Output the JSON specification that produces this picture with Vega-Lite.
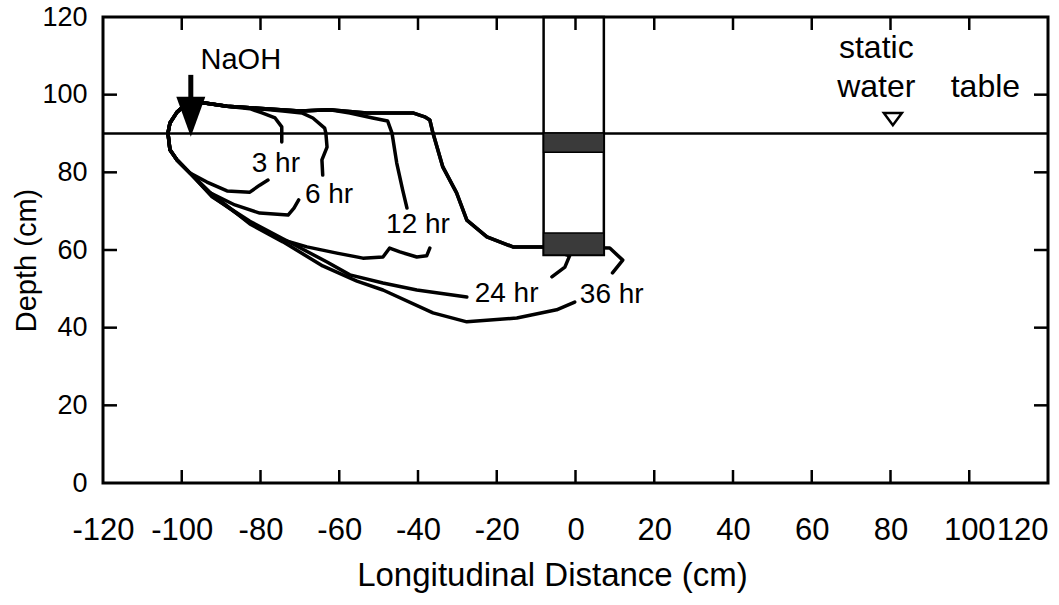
{
  "$schema": "https://vega.github.io/schema/vega-lite/v6.json",
  "width": 945,
  "height": 466,
  "autosize": {"type": "none"},
  "padding": {"left": 103, "top": 17, "right": 11, "bottom": 122},
  "background": "white",
  "config": {
    "view": {"stroke": "black", "strokeWidth": 3},
    "axis": {"grid": false, "domain": false, "ticks": false, "labelColor": "black", "titleColor": "black", "labelFont": "Liberation Sans", "titleFont": "Liberation Sans", "titleFontWeight": "normal", "labelOverlap": false}
  },
  "datasets": {
    "curves": [
      {"hr": "3", "i": 1, "x": -74.6, "y": 87.8},
      {"hr": "3", "i": 2, "x": -74.6, "y": 91.7},
      {"hr": "3", "i": 3, "x": -76.3, "y": 94.0},
      {"hr": "3", "i": 4, "x": -79.6, "y": 95.3},
      {"hr": "3", "i": 5, "x": -82.7, "y": 96.4},
      {"hr": "3", "i": 6, "x": -88.5, "y": 97.0},
      {"hr": "3", "i": 7, "x": -94.6, "y": 97.9},
      {"hr": "3", "i": 8, "x": -98.9, "y": 97.6},
      {"hr": "3", "i": 9, "x": -101.2, "y": 95.5},
      {"hr": "3", "i": 10, "x": -103.0, "y": 92.7},
      {"hr": "3", "i": 11, "x": -103.5, "y": 90.1},
      {"hr": "3", "i": 12, "x": -103.0, "y": 85.8},
      {"hr": "3", "i": 13, "x": -101.2, "y": 83.2},
      {"hr": "3", "i": 14, "x": -97.9, "y": 79.8},
      {"hr": "3", "i": 15, "x": -93.6, "y": 77.5},
      {"hr": "3", "i": 16, "x": -88.5, "y": 75.2},
      {"hr": "3", "i": 17, "x": -82.7, "y": 74.9},
      {"hr": "3", "i": 18, "x": -80.2, "y": 76.7},
      {"hr": "3", "i": 19, "x": -78.1, "y": 78.0},

      {"hr": "6", "i": 1, "x": -64.2, "y": 79.3},
      {"hr": "6", "i": 2, "x": -64.4, "y": 83.2},
      {"hr": "6", "i": 3, "x": -63.1, "y": 86.5},
      {"hr": "6", "i": 4, "x": -63.4, "y": 90.1},
      {"hr": "6", "i": 5, "x": -63.7, "y": 91.4},
      {"hr": "6", "i": 6, "x": -66.7, "y": 94.0},
      {"hr": "6", "i": 7, "x": -69.5, "y": 95.3},
      {"hr": "6", "i": 8, "x": -74.3, "y": 95.8},
      {"hr": "6", "i": 9, "x": -82.7, "y": 96.6},
      {"hr": "6", "i": 10, "x": -88.5, "y": 97.0},
      {"hr": "6", "i": 11, "x": -94.6, "y": 97.9},
      {"hr": "6", "i": 12, "x": -98.9, "y": 97.6},
      {"hr": "6", "i": 13, "x": -101.2, "y": 95.5},
      {"hr": "6", "i": 14, "x": -103.0, "y": 92.7},
      {"hr": "6", "i": 15, "x": -103.5, "y": 90.1},
      {"hr": "6", "i": 16, "x": -103.0, "y": 85.8},
      {"hr": "6", "i": 17, "x": -101.2, "y": 83.2},
      {"hr": "6", "i": 18, "x": -97.9, "y": 79.8},
      {"hr": "6", "i": 19, "x": -92.8, "y": 74.7},
      {"hr": "6", "i": 20, "x": -86.5, "y": 71.6},
      {"hr": "6", "i": 21, "x": -80.2, "y": 69.5},
      {"hr": "6", "i": 22, "x": -73.0, "y": 69.0},
      {"hr": "6", "i": 23, "x": -71.5, "y": 70.8},
      {"hr": "6", "i": 24, "x": -70.3, "y": 72.9},

      {"hr": "12", "i": 1, "x": -42.8, "y": 70.8},
      {"hr": "12", "i": 2, "x": -43.9, "y": 75.5},
      {"hr": "12", "i": 3, "x": -45.4, "y": 82.4},
      {"hr": "12", "i": 4, "x": -46.6, "y": 90.1},
      {"hr": "12", "i": 5, "x": -47.7, "y": 93.2},
      {"hr": "12", "i": 6, "x": -51.5, "y": 94.0},
      {"hr": "12", "i": 7, "x": -57.3, "y": 95.3},
      {"hr": "12", "i": 8, "x": -62.4, "y": 96.1},
      {"hr": "12", "i": 9, "x": -70.0, "y": 95.8},
      {"hr": "12", "i": 10, "x": -82.7, "y": 96.6},
      {"hr": "12", "i": 11, "x": -88.5, "y": 97.0},
      {"hr": "12", "i": 12, "x": -94.6, "y": 97.9},
      {"hr": "12", "i": 13, "x": -98.9, "y": 97.6},
      {"hr": "12", "i": 14, "x": -101.2, "y": 95.5},
      {"hr": "12", "i": 15, "x": -103.0, "y": 92.7},
      {"hr": "12", "i": 16, "x": -103.5, "y": 90.1},
      {"hr": "12", "i": 17, "x": -103.0, "y": 85.8},
      {"hr": "12", "i": 18, "x": -101.2, "y": 83.2},
      {"hr": "12", "i": 19, "x": -97.9, "y": 79.8},
      {"hr": "12", "i": 20, "x": -92.3, "y": 73.9},
      {"hr": "12", "i": 21, "x": -82.7, "y": 67.0},
      {"hr": "12", "i": 22, "x": -74.3, "y": 62.6},
      {"hr": "12", "i": 23, "x": -68.2, "y": 60.8},
      {"hr": "12", "i": 24, "x": -60.6, "y": 59.2},
      {"hr": "12", "i": 25, "x": -54.0, "y": 57.9},
      {"hr": "12", "i": 26, "x": -48.9, "y": 58.2},
      {"hr": "12", "i": 27, "x": -47.2, "y": 60.5},
      {"hr": "12", "i": 28, "x": -44.6, "y": 59.5},
      {"hr": "12", "i": 29, "x": -40.3, "y": 58.2},
      {"hr": "12", "i": 30, "x": -37.8, "y": 58.5},
      {"hr": "12", "i": 31, "x": -37.0, "y": 60.5},

      {"hr": "24", "i": 1, "x": -6.0, "y": 53.1},
      {"hr": "24", "i": 2, "x": -2.7, "y": 55.6},
      {"hr": "24", "i": 3, "x": -1.5, "y": 58.5},
      {"hr": "24", "i": 4, "x": -8.3, "y": 60.8},
      {"hr": "24", "i": 5, "x": -15.9, "y": 60.8},
      {"hr": "24", "i": 6, "x": -22.5, "y": 63.4},
      {"hr": "24", "i": 7, "x": -27.6, "y": 67.7},
      {"hr": "24", "i": 8, "x": -30.2, "y": 74.7},
      {"hr": "24", "i": 9, "x": -33.7, "y": 81.4},
      {"hr": "24", "i": 10, "x": -36.2, "y": 90.1},
      {"hr": "24", "i": 11, "x": -37.0, "y": 93.5},
      {"hr": "24", "i": 12, "x": -38.3, "y": 94.3},
      {"hr": "24", "i": 13, "x": -41.3, "y": 95.3},
      {"hr": "24", "i": 14, "x": -53.0, "y": 95.3},
      {"hr": "24", "i": 15, "x": -62.4, "y": 96.1},
      {"hr": "24", "i": 16, "x": -70.0, "y": 95.8},
      {"hr": "24", "i": 17, "x": -82.7, "y": 96.6},
      {"hr": "24", "i": 18, "x": -88.5, "y": 97.0},
      {"hr": "24", "i": 19, "x": -94.6, "y": 97.9},
      {"hr": "24", "i": 20, "x": -98.9, "y": 97.6},
      {"hr": "24", "i": 21, "x": -101.2, "y": 95.5},
      {"hr": "24", "i": 22, "x": -103.0, "y": 92.7},
      {"hr": "24", "i": 23, "x": -103.5, "y": 90.1},
      {"hr": "24", "i": 24, "x": -103.0, "y": 85.8},
      {"hr": "24", "i": 25, "x": -101.2, "y": 83.2},
      {"hr": "24", "i": 26, "x": -97.9, "y": 79.8},
      {"hr": "24", "i": 27, "x": -92.3, "y": 73.7},
      {"hr": "24", "i": 28, "x": -82.7, "y": 67.4},
      {"hr": "24", "i": 29, "x": -74.3, "y": 62.9},
      {"hr": "24", "i": 30, "x": -63.1, "y": 56.9},
      {"hr": "24", "i": 31, "x": -57.3, "y": 53.6},
      {"hr": "24", "i": 32, "x": -48.9, "y": 51.5},
      {"hr": "24", "i": 33, "x": -40.3, "y": 49.7},
      {"hr": "24", "i": 34, "x": -27.6, "y": 47.9},

      {"hr": "36", "i": 1, "x": 9.4, "y": 54.1},
      {"hr": "36", "i": 2, "x": 12.0, "y": 57.4},
      {"hr": "36", "i": 3, "x": 8.7, "y": 60.5},
      {"hr": "36", "i": 4, "x": -8.3, "y": 60.8},
      {"hr": "36", "i": 5, "x": -15.9, "y": 60.8},
      {"hr": "36", "i": 6, "x": -22.5, "y": 63.4},
      {"hr": "36", "i": 7, "x": -27.6, "y": 67.7},
      {"hr": "36", "i": 8, "x": -30.2, "y": 74.7},
      {"hr": "36", "i": 9, "x": -33.7, "y": 81.4},
      {"hr": "36", "i": 10, "x": -36.2, "y": 90.1},
      {"hr": "36", "i": 11, "x": -37.0, "y": 93.5},
      {"hr": "36", "i": 12, "x": -38.3, "y": 94.3},
      {"hr": "36", "i": 13, "x": -41.3, "y": 95.3},
      {"hr": "36", "i": 14, "x": -53.0, "y": 95.3},
      {"hr": "36", "i": 15, "x": -62.4, "y": 96.1},
      {"hr": "36", "i": 16, "x": -70.0, "y": 95.8},
      {"hr": "36", "i": 17, "x": -82.7, "y": 96.6},
      {"hr": "36", "i": 18, "x": -88.5, "y": 97.0},
      {"hr": "36", "i": 19, "x": -94.6, "y": 97.9},
      {"hr": "36", "i": 20, "x": -98.9, "y": 97.6},
      {"hr": "36", "i": 21, "x": -101.2, "y": 95.5},
      {"hr": "36", "i": 22, "x": -103.0, "y": 92.7},
      {"hr": "36", "i": 23, "x": -103.5, "y": 90.1},
      {"hr": "36", "i": 24, "x": -103.0, "y": 85.8},
      {"hr": "36", "i": 25, "x": -101.2, "y": 83.2},
      {"hr": "36", "i": 26, "x": -97.9, "y": 79.8},
      {"hr": "36", "i": 27, "x": -93.0, "y": 75.0},
      {"hr": "36", "i": 28, "x": -82.7, "y": 66.7},
      {"hr": "36", "i": 29, "x": -74.3, "y": 62.1},
      {"hr": "36", "i": 30, "x": -64.2, "y": 55.9},
      {"hr": "36", "i": 31, "x": -55.5, "y": 52.0},
      {"hr": "36", "i": 32, "x": -48.9, "y": 49.7},
      {"hr": "36", "i": 33, "x": -36.2, "y": 43.8},
      {"hr": "36", "i": 34, "x": -27.6, "y": 41.5},
      {"hr": "36", "i": 35, "x": -14.9, "y": 42.5},
      {"hr": "36", "i": 36, "x": -4.8, "y": 44.6},
      {"hr": "36", "i": 37, "x": -0.2, "y": 46.6}
    ],
    "hours": [
      {"label": "3 hr", "x": -76.1, "y": 82.2},
      {"label": "6 hr", "x": -62.6, "y": 74.2},
      {"label": "12 hr", "x": -40.0, "y": 66.4},
      {"label": "24 hr", "x": -17.5, "y": 48.7},
      {"label": "36 hr", "x": 9.2, "y": 48.4}
    ],
    "notes": [
      {"label": "static", "x": 76.4, "y": 112.0},
      {"label": "water", "x": 76.4, "y": 102.0},
      {"label": "table", "x": 104.1, "y": 102.0}
    ],
    "bands": [
      {"x": -8.1, "x2": 7.2, "y": 85.2, "y2": 90.1},
      {"x": -8.1, "x2": 7.2, "y": 58.7, "y2": 64.4}
    ],
    "tickmarks": [
      {"side": "b1", "x": -100, "y": 0}, {"side": "b1", "x": -100, "y": 3.35},
      {"side": "b2", "x": -80, "y": 0}, {"side": "b2", "x": -80, "y": 3.35},
      {"side": "b3", "x": -60, "y": 0}, {"side": "b3", "x": -60, "y": 3.35},
      {"side": "b4", "x": -40, "y": 0}, {"side": "b4", "x": -40, "y": 3.35},
      {"side": "b5", "x": -20, "y": 0}, {"side": "b5", "x": -20, "y": 3.35},
      {"side": "b6", "x": 0, "y": 0}, {"side": "b6", "x": 0, "y": 3.35},
      {"side": "b7", "x": 20, "y": 0}, {"side": "b7", "x": 20, "y": 3.35},
      {"side": "b8", "x": 40, "y": 0}, {"side": "b8", "x": 40, "y": 3.35},
      {"side": "b9", "x": 60, "y": 0}, {"side": "b9", "x": 60, "y": 3.35},
      {"side": "b10", "x": 80, "y": 0}, {"side": "b10", "x": 80, "y": 3.35},
      {"side": "b11", "x": 100, "y": 0}, {"side": "b11", "x": 100, "y": 3.35},
      {"side": "t1", "x": -100, "y": 120}, {"side": "t1", "x": -100, "y": 116.65},
      {"side": "t2", "x": -80, "y": 120}, {"side": "t2", "x": -80, "y": 116.65},
      {"side": "t3", "x": -60, "y": 120}, {"side": "t3", "x": -60, "y": 116.65},
      {"side": "t4", "x": -40, "y": 120}, {"side": "t4", "x": -40, "y": 116.65},
      {"side": "t5", "x": -20, "y": 120}, {"side": "t5", "x": -20, "y": 116.65},
      {"side": "t6", "x": 0, "y": 120}, {"side": "t6", "x": 0, "y": 116.65},
      {"side": "t7", "x": 20, "y": 120}, {"side": "t7", "x": 20, "y": 116.65},
      {"side": "t8", "x": 40, "y": 120}, {"side": "t8", "x": 40, "y": 116.65},
      {"side": "t9", "x": 60, "y": 120}, {"side": "t9", "x": 60, "y": 116.65},
      {"side": "t10", "x": 80, "y": 120}, {"side": "t10", "x": 80, "y": 116.65},
      {"side": "t11", "x": 100, "y": 120}, {"side": "t11", "x": 100, "y": 116.65},
      {"side": "l1", "x": -120, "y": 20}, {"side": "l1", "x": -116.45, "y": 20},
      {"side": "l2", "x": -120, "y": 40}, {"side": "l2", "x": -116.45, "y": 40},
      {"side": "l3", "x": -120, "y": 60}, {"side": "l3", "x": -116.45, "y": 60},
      {"side": "l4", "x": -120, "y": 80}, {"side": "l4", "x": -116.45, "y": 80},
      {"side": "l5", "x": -120, "y": 100}, {"side": "l5", "x": -116.45, "y": 100},
      {"side": "r1", "x": 120, "y": 20}, {"side": "r1", "x": 116.45, "y": 20},
      {"side": "r2", "x": 120, "y": 40}, {"side": "r2", "x": 116.45, "y": 40},
      {"side": "r3", "x": 120, "y": 60}, {"side": "r3", "x": 116.45, "y": 60},
      {"side": "r4", "x": 120, "y": 80}, {"side": "r4", "x": 116.45, "y": 80},
      {"side": "r5", "x": 120, "y": 100}, {"side": "r5", "x": 116.45, "y": 100}
    ]
  },
  "layer": [
    {
      "data": {"values": [{"x": -120, "x2": 120, "y": 90}]},
      "mark": {"type": "rule", "strokeWidth": 2.5, "color": "black"},
      "encoding": {
        "x": {
          "field": "x", "type": "quantitative",
          "scale": {"domain": [-120, 120], "nice": false, "zero": false},
          "axis": {
            "orient": "bottom",
            "values": [-120, -100, -80, -60, -40, -20, 0, 20, 40, 60, 80, 100, 120],
            "labelPadding": 32, "labelFontSize": 31,
            "labelExpr": "datum.value < 0 ? '-' + abs(datum.value) : '' + datum.value",
            "labelAlign": {"condition": {"test": "datum.value == 120", "value": "right"}, "value": "center"},
            "title": "Longitudinal Distance (cm)", "titleFontSize": 33,
            "titleX": 449, "titleY": 92, "titleBaseline": "middle", "titleAlign": "center"
          }
        },
        "x2": {"field": "x2"},
        "y": {
          "field": "y", "type": "quantitative",
          "scale": {"domain": [0, 120], "nice": false, "zero": true},
          "axis": {
            "orient": "left",
            "values": [0, 20, 40, 60, 80, 100, 120],
            "labelPadding": 16, "labelFontSize": 27,
            "title": "Depth (cm)", "titleFontSize": 29,
            "titleX": -77, "titleY": 243, "titleBaseline": "middle", "titleAlign": "center", "titleAngle": -90
          }
        }
      }
    },
    {
      "data": {"name": "tickmarks"},
      "mark": {"type": "line", "color": "black", "strokeWidth": 2.5},
      "encoding": {
        "x": {"field": "x", "type": "quantitative", "axis": null},
        "y": {"field": "y", "type": "quantitative", "axis": null},
        "detail": {"field": "side"}
      }
    },
    {
      "data": {"values": [{"x": -8.1, "x2": 7.2, "y": 58.7, "y2": 120}]},
      "mark": {"type": "rect", "fill": "white", "fillOpacity": 0, "stroke": "black", "strokeWidth": 2.5},
      "encoding": {
        "x": {"field": "x", "type": "quantitative", "axis": null},
        "x2": {"field": "x2"},
        "y": {"field": "y", "type": "quantitative", "axis": null},
        "y2": {"field": "y2"}
      }
    },
    {
      "data": {"name": "curves"},
      "mark": {"type": "line", "color": "black", "strokeWidth": 3.5, "strokeJoin": "round", "strokeCap": "round"},
      "encoding": {
        "x": {"field": "x", "type": "quantitative", "axis": null},
        "y": {"field": "y", "type": "quantitative", "axis": null},
        "detail": {"field": "hr"},
        "order": {"field": "i", "type": "quantitative"}
      }
    },
    {
      "data": {"name": "bands"},
      "mark": {"type": "rect", "fill": "#3a3a3a", "stroke": "black", "strokeWidth": 1.5},
      "encoding": {
        "x": {"field": "x", "type": "quantitative", "axis": null},
        "x2": {"field": "x2"},
        "y": {"field": "y", "type": "quantitative", "axis": null},
        "y2": {"field": "y2"}
      }
    },
    {
      "data": {"values": [{"x": -97.7, "y": 105.1, "y2": 99.0}]},
      "mark": {"type": "rule", "color": "black", "strokeWidth": 5},
      "encoding": {
        "x": {"field": "x", "type": "quantitative", "axis": null},
        "y": {"field": "y", "type": "quantitative", "axis": null},
        "y2": {"field": "y2"}
      }
    },
    {
      "data": {"values": [{"x": -97.7, "y": 94.3}]},
      "mark": {"type": "point", "shape": "M-0.725,-1L0.725,-1L0,1Z", "size": 1600, "filled": true, "color": "black", "opacity": 1},
      "encoding": {
        "x": {"field": "x", "type": "quantitative", "axis": null},
        "y": {"field": "y", "type": "quantitative", "axis": null}
      }
    },
    {
      "data": {"values": [{"x": 80.6, "y": 93.7}]},
      "mark": {"type": "point", "shape": "M-1,-0.67L1,-0.67L0,0.67Z", "size": 324, "filled": false, "stroke": "black", "strokeWidth": 2.5, "opacity": 1},
      "encoding": {
        "x": {"field": "x", "type": "quantitative", "axis": null},
        "y": {"field": "y", "type": "quantitative", "axis": null}
      }
    },
    {
      "data": {"name": "hours"},
      "mark": {"type": "text", "font": "Liberation Sans", "fontSize": 28, "color": "black", "align": "center", "baseline": "middle"},
      "encoding": {
        "x": {"field": "x", "type": "quantitative", "axis": null},
        "y": {"field": "y", "type": "quantitative", "axis": null},
        "text": {"field": "label"}
      }
    },
    {
      "data": {"name": "notes"},
      "mark": {"type": "text", "font": "Liberation Sans", "fontSize": 32, "color": "black", "align": "center", "baseline": "middle"},
      "encoding": {
        "x": {"field": "x", "type": "quantitative", "axis": null},
        "y": {"field": "y", "type": "quantitative", "axis": null},
        "text": {"field": "label"}
      }
    },
    {
      "data": {"values": [{"label": "NaOH", "x": -85.0, "y": 108.9}]},
      "mark": {"type": "text", "font": "Liberation Sans", "fontSize": 29, "color": "black", "align": "center", "baseline": "middle"},
      "encoding": {
        "x": {"field": "x", "type": "quantitative", "axis": null},
        "y": {"field": "y", "type": "quantitative", "axis": null},
        "text": {"field": "label"}
      }
    }
  ],
  "resolve": {"axis": {"x": "independent", "y": "independent"}}
}
